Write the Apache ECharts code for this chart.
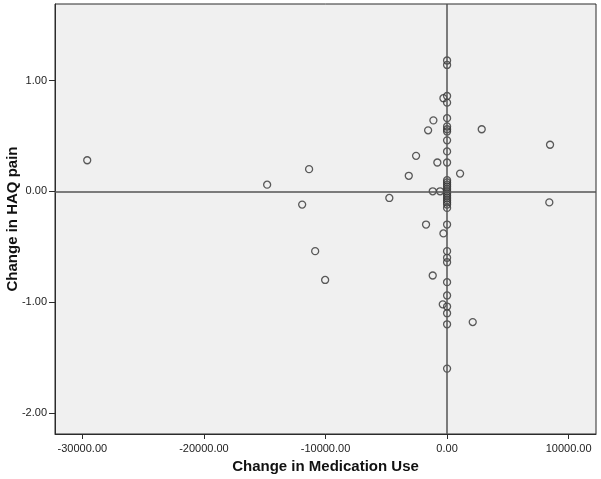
<!DOCTYPE html>
<html>
<head>
<meta charset="utf-8">
<script src="https://cdn.jsdelivr.net/npm/echarts@6/dist/echarts.min.js"></script>
<style>
html,body{margin:0;padding:0;background:#ffffff;}
#chart{width:601px;height:479px;}
</style>
</head>
<body>
<div id="chart"></div>
<script>
// Change in Medication Use (x) and Change in HAQ pain (y)
var medChange = [
  -29600, -14800, -11350, -11920, -10850, -10030, -4750, -3150, -2550, -1560,
  -1125, -800, -300, 1070, 2850, 8470, 8410, -1180, -575, -1730,
  -300, -1180, -355, 2110,
  0, 0, 0, 0, 0, 0, 0, 0, 0, 0,
  0, 0, 0, 0, 0, 0, 0, 0, 0, 0,
  0, 0, 0, 0, 0, 0, 0, 0, 0, 0,
  0, 0, 0, 0
];
var haqChange = [
  0.28, 0.06, 0.20, -0.12, -0.54, -0.80, -0.06, 0.14, 0.32, 0.55,
  0.64, 0.26, 0.84, 0.16, 0.56, 0.42, -0.10, 0.00, 0.00, -0.30,
  -0.38, -0.76, -1.02, -1.18,
  1.18, 1.14, 0.86, 0.80, 0.66, 0.585, 0.56, 0.54, 0.46, 0.36,
  0.26, 0.10, 0.08, 0.06, 0.04, 0.02, 0.00, -0.02, -0.04, -0.06,
  -0.08, -0.10, -0.12, -0.15, -0.30, -0.54, -0.60, -0.64, -0.82, -0.94,
  -1.04, -1.10, -1.20, -1.60
];
var xTicks = [-30000, -20000, -10000, 0, 10000];
var yTicks = [-2, -1, 0, 1];
var xTitle = 'Change in Medication Use';
var yTitle = 'Change in HAQ pain';

var points = medChange.map(function (v, i) { return [v, haqChange[i]]; });

var chart = echarts.init(document.getElementById('chart'), null, {renderer: 'canvas'});
var font = 'Liberation Sans, Arial, sans-serif';
chart.setOption({
  animation: false,
  backgroundColor: '#ffffff',
  grid: {
    left: 55, right: 5, top: 4, bottom: 45,
    containLabel: false, outerBoundsMode: 'none',
    show: true, backgroundColor: '#f0f0f0', borderColor: '#2b2b2b', borderWidth: 1
  },
  xAxis: {
    type: 'value', min: -32250, max: 12250,
    name: xTitle, nameLocation: 'middle', nameGap: 25, nameMoveOverlap: false,
    nameTextStyle: {fontFamily: font, fontSize: 15, fontWeight: 'bold', color: '#111'},
    splitLine: {show: false},
    axisLine: {show: true, onZero: false, lineStyle: {color: '#2b2b2b', width: 1}},
    axisTick: {show: true, customValues: xTicks, length: 5, lineStyle: {color: '#2b2b2b'}},
    axisLabel: {customValues: xTicks, fontFamily: font, fontSize: 11, color: '#222', margin: 9,
      formatter: function (v) { return v.toFixed(2); }}
  },
  yAxis: {
    type: 'value', min: -2.19, max: 1.69,
    name: yTitle, nameLocation: 'middle', nameGap: 35, nameRotate: 90, nameMoveOverlap: false,
    nameTextStyle: {fontFamily: font, fontSize: 15, fontWeight: 'bold', color: '#111'},
    splitLine: {show: false},
    axisLine: {show: true, onZero: false, lineStyle: {color: '#2b2b2b', width: 1}},
    axisTick: {show: true, customValues: yTicks, length: 6, lineStyle: {color: '#2b2b2b'}},
    axisLabel: {customValues: yTicks, fontFamily: font, fontSize: 11, color: '#222', margin: 8,
      formatter: function (v) { return v.toFixed(2); }}
  },
  series: [{
    type: 'scatter',
    data: points,
    symbol: 'circle',
    symbolSize: 7,
    itemStyle: {color: 'rgba(0,0,0,0)', borderColor: '#333333', borderWidth: 1.3},
    markLine: {
      silent: true,
      symbol: 'none',
      label: {show: false},
      lineStyle: {color: '#555555', width: 1.5, type: 'solid'},
      data: [{xAxis: 0}, {yAxis: 0}]
    }
  }]
});
</script>
</body>
</html>
